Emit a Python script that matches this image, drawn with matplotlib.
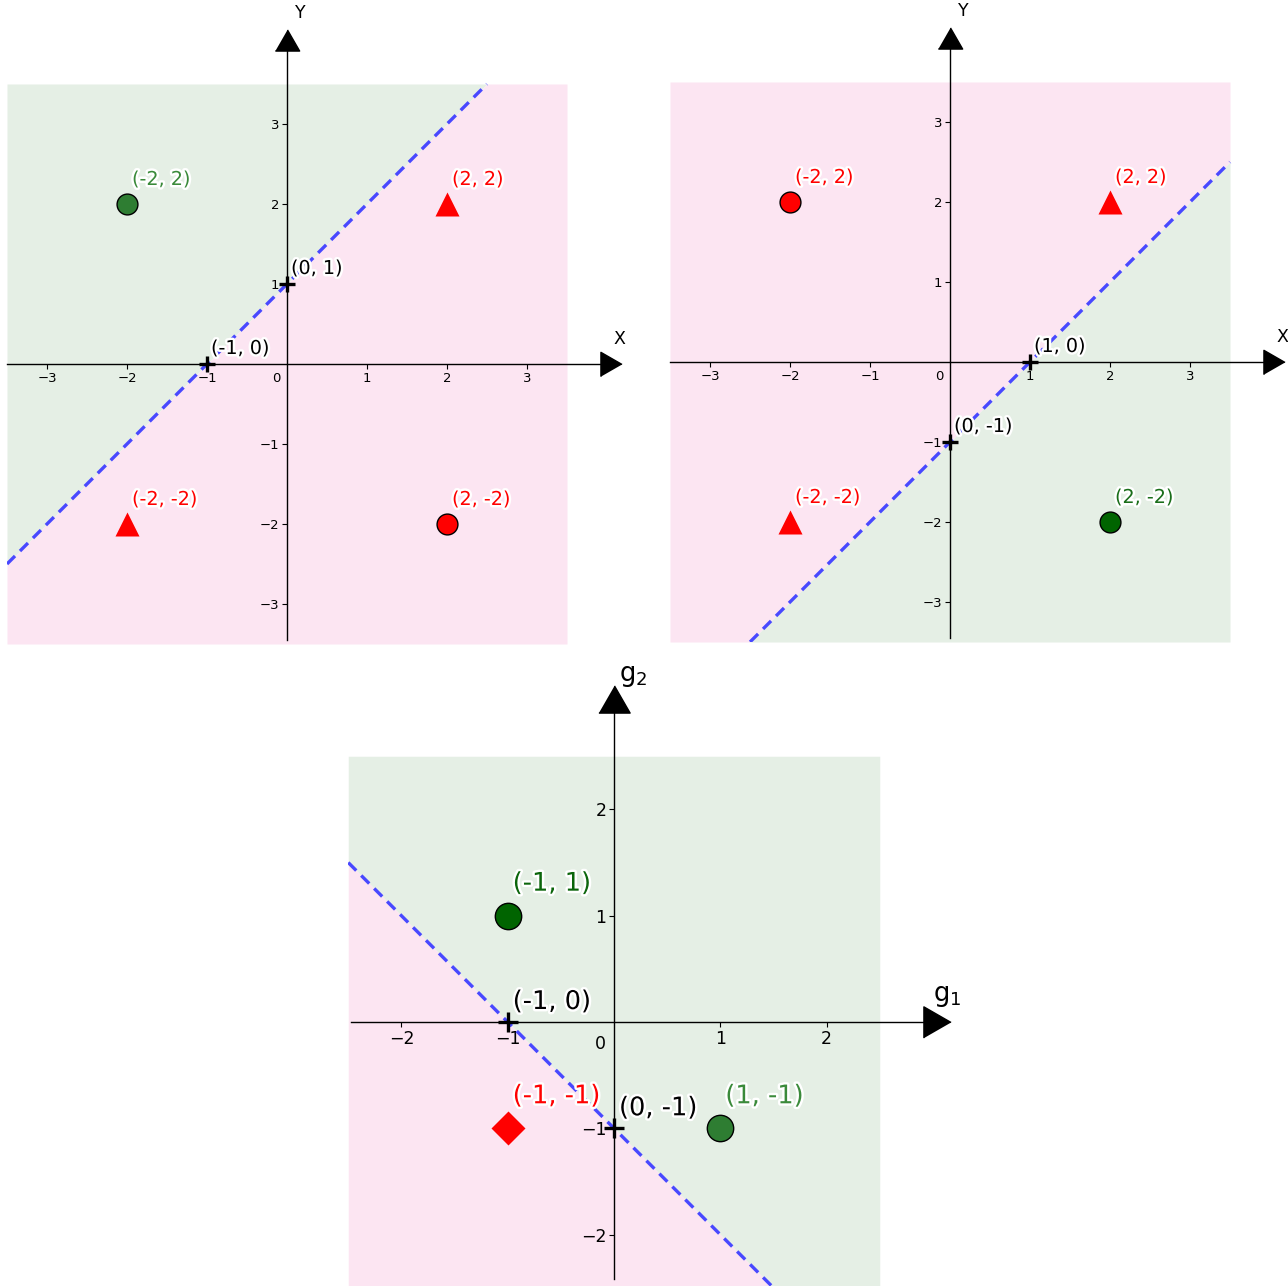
import numpy as np
import matplotlib
matplotlib.use("Agg")
import matplotlib.pyplot as plt
import matplotlib.patheffects as pe

# ---- data -------------------------------------------------------------
# panel A: boundary y = x + 1
a_pts_x = [-2, 2, -2, 2]
a_pts_y = [2, 2, -2, -2]
a_markers = ["o", "^", "^", "o"]
a_colors = ["#2e7d32", "#ff0000", "#ff0000", "#ff0000"]
a_label_colors = ["#3a8a3a", "#ff0000", "#ff0000", "#ff0000"]
a_line = (1.0, 1.0)           # slope, intercept
a_cross_x = [0, -1]
a_cross_y = [1, 0]

# panel B: boundary y = x - 1
b_pts_x = [-2, 2, -2, 2]
b_pts_y = [2, 2, -2, -2]
b_markers = ["o", "^", "^", "o"]
b_colors = ["#ff0000", "#ff0000", "#ff0000", "#006400"]
b_label_colors = ["#ff0000", "#ff0000", "#ff0000", "#1a6e1a"]
b_line = (1.0, -1.0)
b_cross_x = [1, 0]
b_cross_y = [0, -1]

# panel C: boundary g2 = -g1 - 1
c_pts_x = [-1, 1, -1]
c_pts_y = [1, -1, -1]
c_markers = ["o", "o", "D"]
c_colors = ["#006400", "#2e7d32", "#ff0000"]
c_label_colors = ["#0b650b", "#3a8a3a", "#ff0000"]
c_line = (-1.0, -1.0)
c_cross_x = [-1, 0]
c_cross_y = [0, -1]

top_ticks = [-3, -2, -1, 1, 2, 3]
bottom_ticks = [-2, -1, 1, 2]

GREEN_BG = "#e5efe5"
PINK_BG = "#fce5f2"
LINE_C = "#4848ff"

W, H = 1288, 1286
fig = plt.figure(figsize=(W / 100, H / 100), dpi=100)


def axes_px(x0, y0, scale, xlim, ylim):
    left = x0 + xlim[0] * scale
    right = x0 + xlim[1] * scale
    top = y0 - ylim[1] * scale
    bottom = y0 - ylim[0] * scale
    ax = fig.add_axes([left / W, 1 - bottom / H, (right - left) / W, (bottom - top) / H])
    ax.set_xlim(*xlim)
    ax.set_ylim(*ylim)
    ax.patch.set_alpha(0)
    return ax


def fmt(v):
    return "(%g, %g)" % (v[0], v[1])


def draw_panel(ax, half, line, above_green, pts_x, pts_y, markers, colors, lcolors,
               cross_x, cross_y, ticks, tick_fs, ann_fs, mk_size, cross_size,
               arrow_pos, arrow_size, x_lab, y_lab, lab_fs, x_lab_pos, y_lab_pos,
               pt_off, cross_off, zero_pos, xbounds_lo, ybounds_lo):
    xs = np.linspace(-half, half, 2001)
    yl = np.clip(line[0] * xs + line[1], -half, half)
    ax.fill_between(xs, yl, half, color=GREEN_BG if above_green else PINK_BG, lw=0, zorder=0)
    ax.fill_between(xs, -half, yl, color=PINK_BG if above_green else GREEN_BG, lw=0, zorder=0)

    # boundary line inside the shaded square
    yr = line[0] * xs + line[1]
    m = (yr >= -half) & (yr <= half)
    ax.plot(xs[m], yr[m], color=LINE_C, lw=2.4, dashes=(3.4, 2.1), zorder=3)

    # axes through the origin
    for s in ["top", "right"]:
        ax.spines[s].set_visible(False)
    ax.spines["left"].set_position(("data", 0))
    ax.spines["bottom"].set_position(("data", 0))
    ax.spines["left"].set_bounds(ybounds_lo, arrow_pos)
    ax.spines["bottom"].set_bounds(xbounds_lo, arrow_pos)
    for s in ["left", "bottom"]:
        ax.spines[s].set_linewidth(1.0)
        ax.spines[s].set_zorder(2)
    ax.set_xticks(ticks)
    ax.set_yticks(ticks)
    ax.tick_params(direction="out", length=3.5, width=0.8, labelsize=tick_fs, pad=2)
    ax.text(zero_pos[0], zero_pos[1], "0", fontsize=tick_fs, ha="right", va="top")

    # arrow heads
    ax.plot([arrow_pos], [0], marker=[(-1, -1.15), (-1, 1.15), (1, 0)], ms=arrow_size,
            color="black", clip_on=False, zorder=4)
    ax.plot([0], [arrow_pos], marker=[(-1.15, -1), (1.15, -1), (0, 1)], ms=arrow_size,
            color="black", clip_on=False, zorder=4)
    ax.text(x_lab_pos[0], x_lab_pos[1], x_lab, fontsize=lab_fs, ha="left", va="bottom",
            clip_on=False)
    ax.text(y_lab_pos[0], y_lab_pos[1], y_lab, fontsize=lab_fs, ha="left", va="bottom",
            clip_on=False)

    stroke = [pe.withStroke(linewidth=3.5, foreground="white")]
    for x, y, mk, c, lc in zip(pts_x, pts_y, markers, colors, lcolors):
        if mk == "o":
            ax.plot(x, y, marker="o", ms=mk_size, mfc=c, mec="black", mew=1.0, zorder=5)
        elif mk == "^":
            ax.plot(x, y, marker="^", ms=mk_size * 1.15, mfc=c, mec="none", zorder=5)
        else:
            ax.plot(x, y, marker="D", ms=mk_size * 0.9, mfc=c, mec="none", zorder=5)
        ax.annotate(fmt((x, y)), (x, y), xytext=pt_off, textcoords="offset pixels",
                    fontsize=ann_fs, color=lc, ha="left", va="bottom",
                    path_effects=stroke, zorder=6)
    for x, y in zip(cross_x, cross_y):
        ax.plot(x, y, marker="+", ms=cross_size, mew=2.4, color="black", zorder=6)
        ax.annotate(fmt((x, y)), (x, y), xytext=cross_off, textcoords="offset pixels",
                    fontsize=ann_fs, color="black", ha="left", va="bottom",
                    path_effects=stroke, zorder=6)


axA = axes_px(287, 364, 80, (-3.5, 4.2), (-3.5, 4.25))
draw_panel(axA, 3.5, a_line, True, a_pts_x, a_pts_y, a_markers, a_colors, a_label_colors,
           a_cross_x, a_cross_y, top_ticks, 9.5, 13.8, 15, 12,
           4.05, 17.5, "X", "Y", 12.5, (4.08, 0.2), (0.1, 4.28),
           (5, 15), (4, 6), (-0.08, -0.1), -3.5, -3.45)

axB = axes_px(950, 362, 80, (-3.5, 4.2), (-3.5, 4.25))
draw_panel(axB, 3.5, b_line, False, b_pts_x, b_pts_y, b_markers, b_colors, b_label_colors,
           b_cross_x, b_cross_y, top_ticks, 9.5, 13.8, 15, 12,
           4.05, 17.5, "X", "Y", 12.5, (4.08, 0.2), (0.1, 4.28),
           (5, 15), (4, 6), (-0.08, -0.1), -3.5, -3.45)

axC = axes_px(614, 1022, 106.3, (-2.5, 3.3), (-2.5, 3.4))
draw_panel(axC, 2.5, c_line, True, c_pts_x, c_pts_y, c_markers, c_colors, c_label_colors,
           c_cross_x, c_cross_y, bottom_ticks, 12.5, 18.5, 19, 15,
           3.04, 22.5, "$\\mathregular{g_1}$", "$\\mathregular{g_2}$", 18.5, (3.0, 0.12),
           (0.05, 3.13), (5, 19), (5, 7), (-0.08, -0.12), -2.47, -2.42)

fig.savefig("out.png", dpi=100)
